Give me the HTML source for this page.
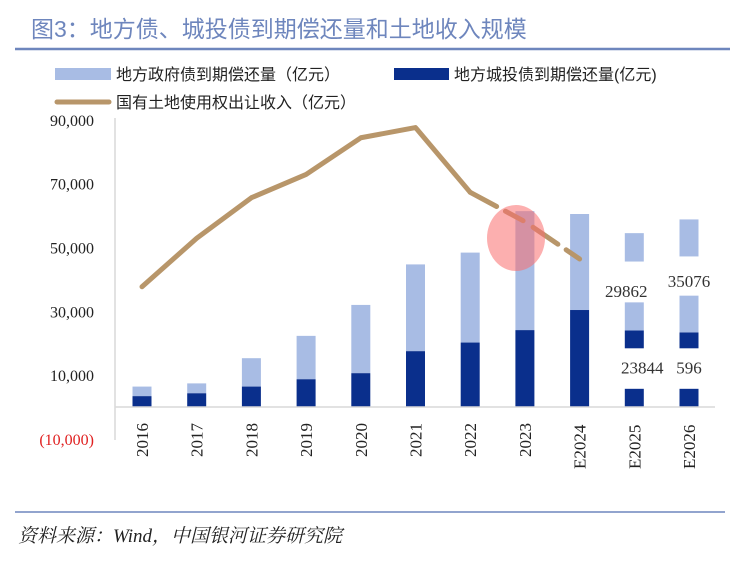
<!DOCTYPE html>
<html><head><meta charset="utf-8"><style>
body{margin:0;background:#fff;width:741px;height:562px;overflow:hidden;font-family:"Liberation Serif","Noto Serif CJK SC",serif}
</style></head><body>
<svg width="741" height="562" xmlns="http://www.w3.org/2000/svg">
<text x="31" y="37" font-size="23" fill="#6e86bd" font-family="Liberation Sans,Noto Sans CJK SC,sans-serif">图3：地方债、城投债到期偿还量和土地收入规模</text>
<line x1="15" y1="49" x2="730" y2="49" stroke="#6e86bd" stroke-width="2.5"/>
<g font-size="16" fill="#222" font-family="Liberation Sans,Noto Sans CJK SC,sans-serif">
<rect x="55" y="68" width="56" height="12" fill="#a8bce4"/>
<text x="116" y="80">地方政府债到期偿还量（亿元）</text>
<rect x="394" y="68" width="55" height="12" fill="#0a2f8c"/>
<text x="454" y="80">地方城投债到期偿还量(亿元)</text>
<line x1="57" y1="102" x2="109" y2="102" stroke="#b8966a" stroke-width="5" stroke-linecap="round"/>
<text x="116" y="108">国有土地使用权出让收入（亿元）</text>
</g>
<g id="plot"></g>
<line x1="15" y1="512" x2="725" y2="512" stroke="#6e86bd" stroke-width="1.5"/>
<text x="18" y="542" font-size="19" font-style="italic" fill="#222" font-family="Liberation Serif,Noto Serif CJK SC,serif">资料来源：Wind，中国银河证券研究院</text>
</svg>
<script>
const categories=["2016","2017","2018","2019","2020","2021","2022","2023","E2024","E2025","E2026"];
const lgfvValues=[3400,4300,6400,8700,10600,17500,20200,24100,30400,null,null];
const totalValues=[6400,7400,15300,22300,32000,44700,48400,61400,60500,null,null];
const landValues=[37700,52900,65600,72900,84400,87600,67300,58100,46400];
// broken-bar segments for forecast years: [category index, from, to, type]
const brokenSegments=[[9,0,5700,"d"],[9,18400,24000,"d"],[9,24000,32800,"l"],[9,45600,54500,"l"],
[10,0,5700,"d"],[10,18400,23400,"d"],[10,23400,34900,"l"],[10,47200,58800,"l"]];
const annotations=[[9,29862,34500,"29862",-8],[10,35076,37600,"35076",0],[9,23844,10500,"23844",8],[10,596,10500,"596",0]];
const yTicks=[90000,70000,50000,30000,10000,-10000];
const yTickLabels=["90,000","70,000","50,000","30,000","10,000","(10,000)"];
const NS="http://www.w3.org/2000/svg";
const g=document.getElementById('plot');
const y=v=>407-(v/1000)*3.19;
const x=i=>142+i*54.7;
const bw=19;
function mk(t,a){const e=document.createElementNS(NS,t);for(const k in a)e.setAttribute(k,a[k]);g.appendChild(e);return e;}
let ax=mk('line',{x1:115,y1:118,x2:115,y2:440,stroke:'#d9d9d9','stroke-width':1.5});


yTicks.forEach((v,i)=>{const t=mk('text',{x:94,y:y(v)+6,'text-anchor':'end','font-size':16,fill:v<0?'#e02020':'#222'});t.textContent=yTickLabels[i];

});
categories.forEach((c,i)=>{
 if(totalValues[i]!=null){
  let r=mk('rect',{x:x(i)-bw/2,y:y(totalValues[i]),width:bw,height:y(lgfvValues[i])-y(totalValues[i]),fill:'#a8bce4'});
  
  
  let d=mk('rect',{x:x(i)-bw/2,y:y(lgfvValues[i]),width:bw,height:y(0)-y(lgfvValues[i]),fill:'#0a2f8c'});
  
  
 }
 const t=mk('text',{transform:`translate(${x(i)+6},${c.length>4?469:457}) rotate(-90)`,'font-size':17,fill:'#222'});t.textContent=c;
 
 
});
brokenSegments.forEach(s=>{let r=mk('rect',{x:x(s[0])-bw/2,y:y(s[2]),width:bw,height:y(s[1])-y(s[2]),fill:s[3]=='d'?'#0a2f8c':'#a8bce4'});

});
let base=mk('line',{x1:115,y1:y(0),x2:715,y2:y(0),stroke:'#d9d9d9','stroke-width':1.5});


const pts=landValues.map((v,i)=>[x(i),y(v)]);
let solid=mk('polyline',{points:pts.slice(0,7).map(p=>p.join(',')).join(' '),fill:'none',stroke:'#b8966a','stroke-width':5,'stroke-linejoin':'round','stroke-linecap':'round'});


let dash=mk('polyline',{points:pts.slice(6).map(p=>p.join(',')).join(' '),fill:'none',stroke:'#b8966a','stroke-width':5,'stroke-dasharray':'30,10,20,12','stroke-linecap':'round'});


let c=mk('ellipse',{cx:516,cy:238,rx:29,ry:33,fill:'rgba(250,110,110,0.55)'});


annotations.forEach(a=>{const t=mk('text',{x:x(a[0])+a[4],y:y(a[2]),'text-anchor':'middle','font-size':17,fill:'#333'});t.textContent=a[3];

});
</script>
</body></html>
